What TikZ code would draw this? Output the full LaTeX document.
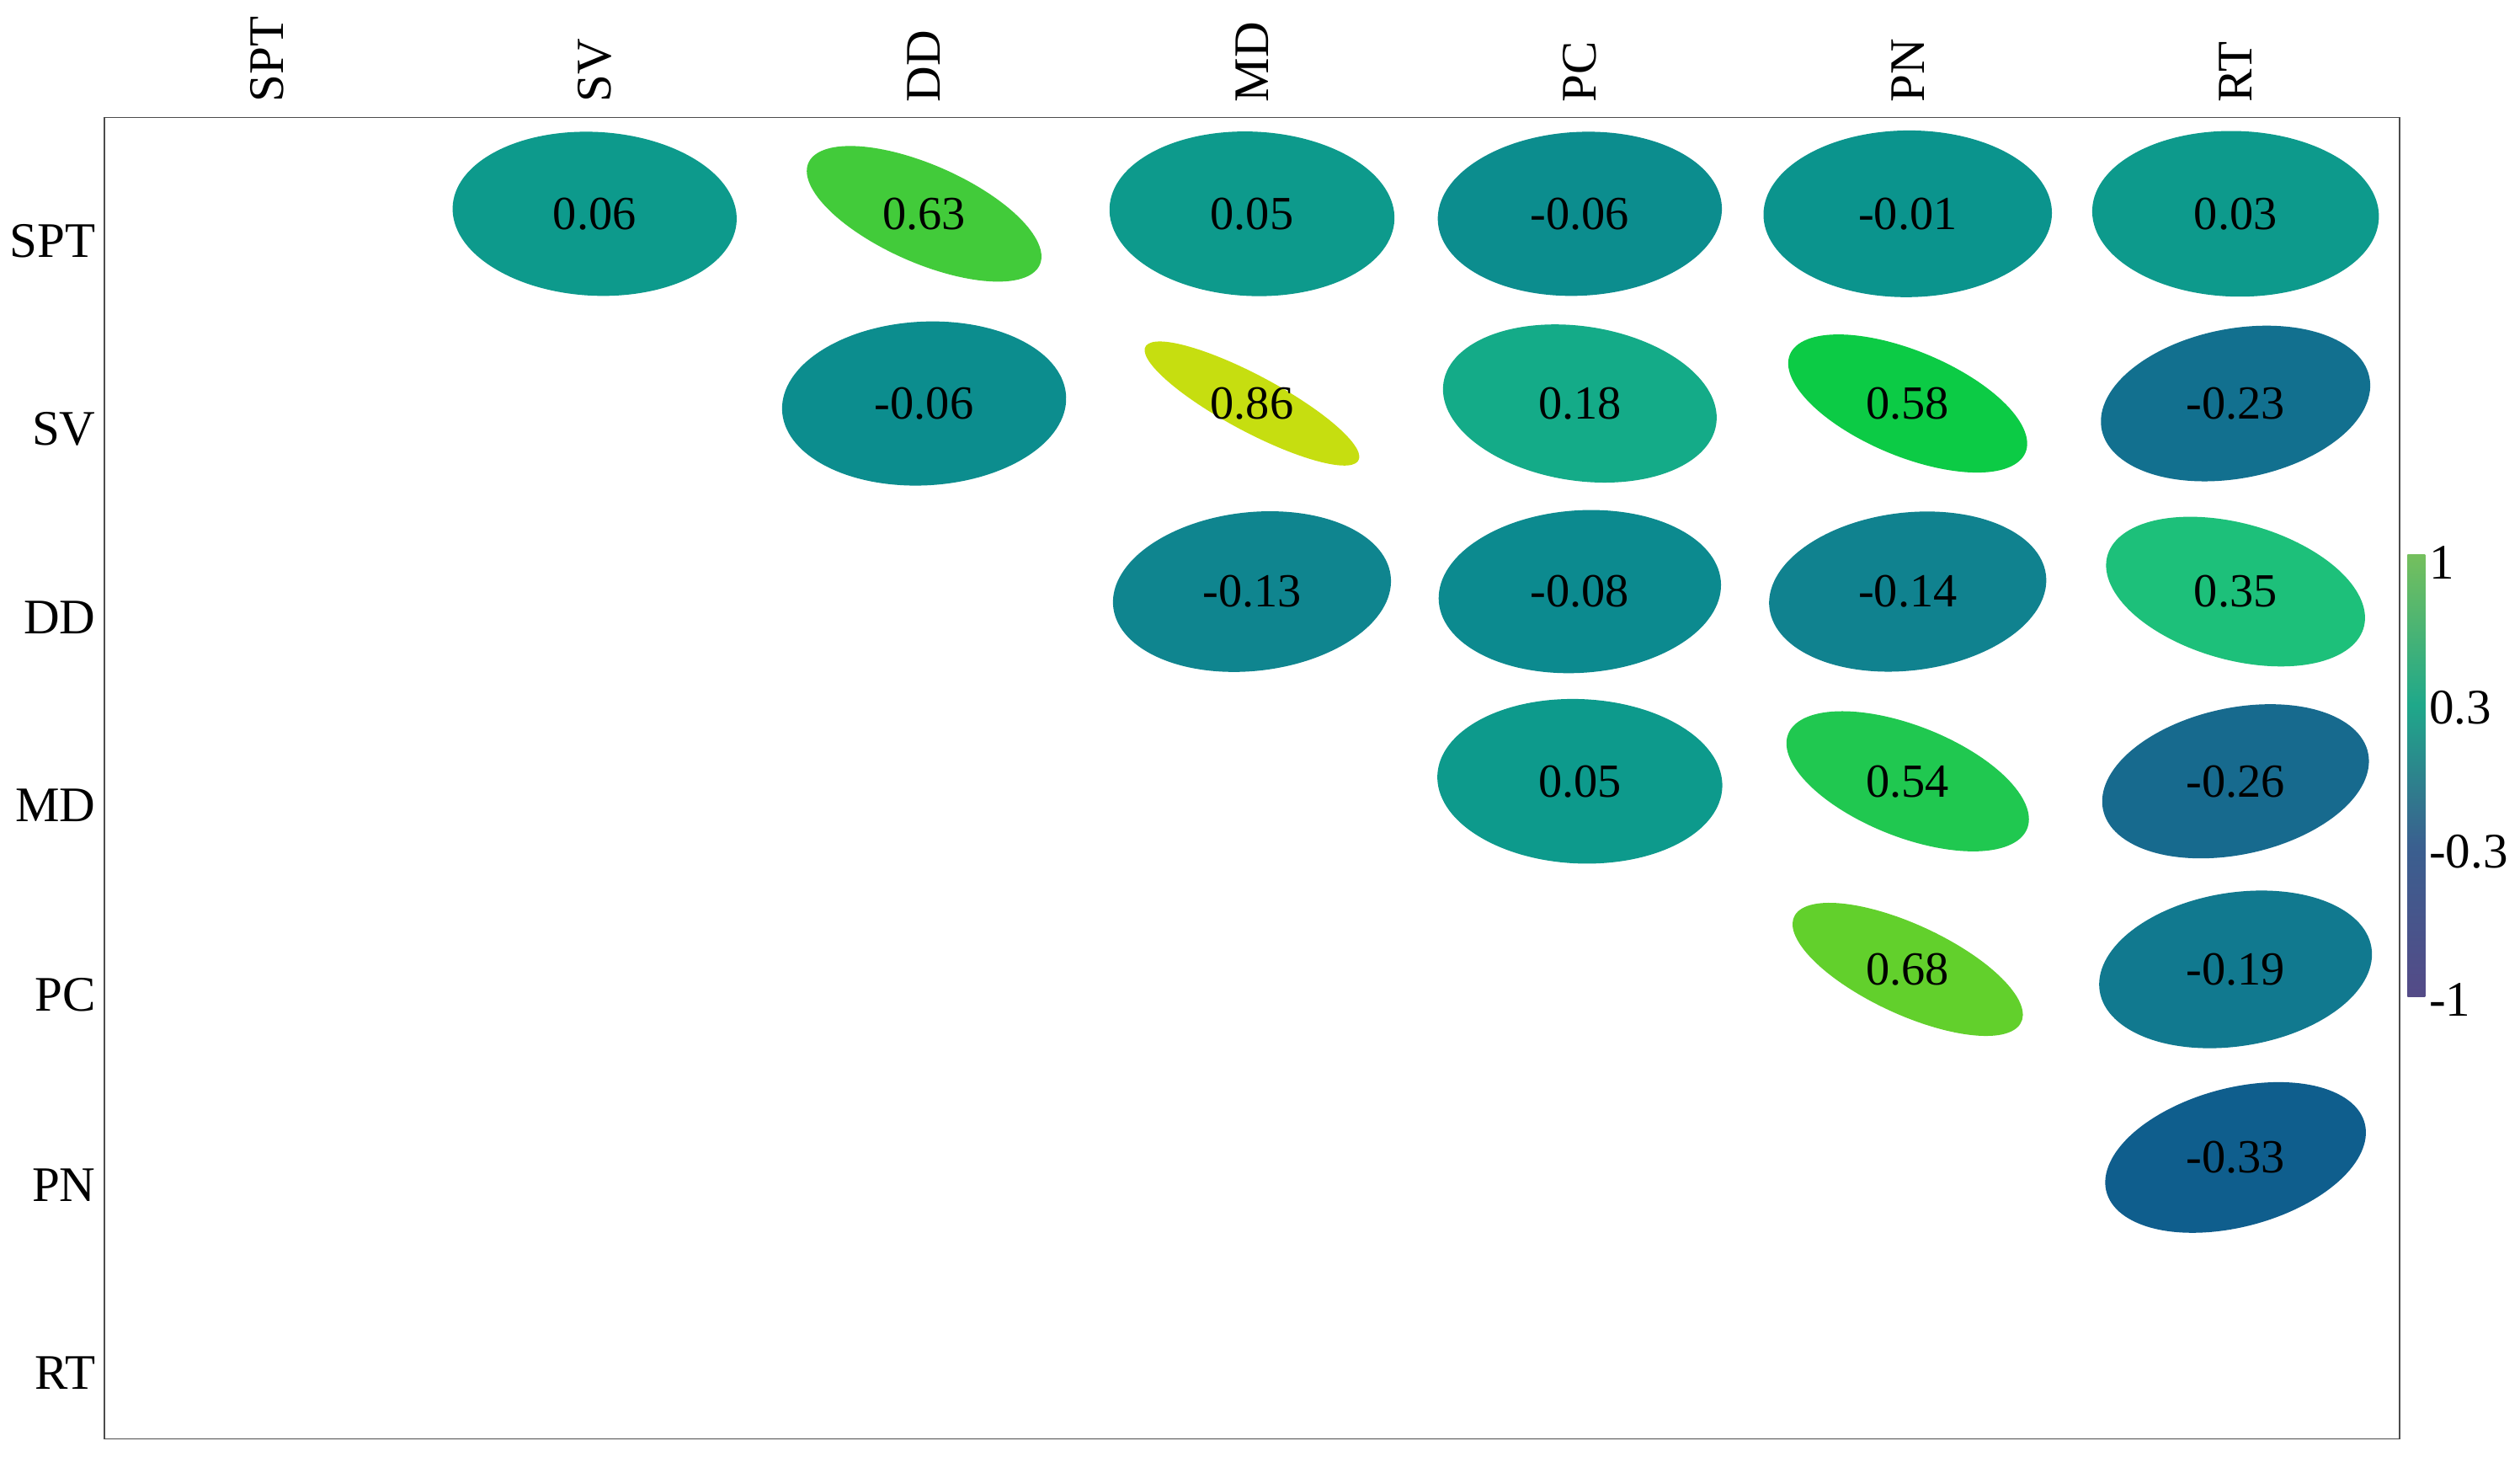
\documentclass[tikz,border=0pt]{standalone}
\usepackage{fontspec}
\setmainfont{Liberation Serif}
\definecolor{cA}{HTML}{F2E21C}
\definecolor{cD}{HTML}{1FA88A}
\definecolor{cC}{HTML}{3A5F8F}
\definecolor{cB}{HTML}{7B2C7C}
\pgfdeclareverticalshading{cbar}{100bp}{color(0bp)=(cB);color(42bp)=(cC);color(58bp)=(cD);color(100bp)=(cA)}
\begin{document}
\begin{tikzpicture}[x=0.05cm,y=-0.05cm,
  lab/.style={font=\fontsize{44}{48}\selectfont},
  num/.style={font=\fontsize{42}{46}\selectfont}]
\useasboundingbox (0,0) rectangle (1568,906);
\draw[line width=1.2pt, black!70] (65,73) rectangle (1493,895);
\newcommand\corr[5]{% name x y r hex
  \definecolor{tmpc}{HTML}{#5}%
  \pgfmathsetmacro\ff{1-0.3*abs(#4)}%
  \pgfmathsetmacro\ra{sqrt(1+#4)}%
  \pgfmathsetmacro\rb{sqrt(1-#4)}%
  \begin{scope}[shift={(#2,#3)},xscale=90*\ff,yscale=52*\ff,rotate=-45]
    \fill[tmpc] (0,0) ellipse [x radius=\ra, y radius=\rb];
  \end{scope}
  \node[num] (#1) at (#2,#3) {#4};
}
\foreach \n/\x in {SPT/166,SV/370,DD/575,MD/779,PC/983,PN/1187,RT/1391}
  \node[lab,rotate=90,anchor=west] (c\n) at (\x,66) {\n};
\foreach \n/\y in {SPT/150,SV/267,DD/384,MD/501,PC/619,PN/737,RT/854}
  \node[lab,anchor=east] (r\n) at (62,\y) {\n};
\corr{a1}{370}{133}{0.06}{0D9A8C}
\corr{a2}{575}{133}{0.63}{42CB3A}
\corr{a3}{779}{133}{0.05}{0D9A8C}
\corr{a4}{983}{133}{-0.06}{0C8D8E}
\corr{a5}{1187}{133}{-0.01}{0B948D}
\corr{a6}{1391}{133}{0.03}{0D9A8C}
\corr{b1}{575}{251}{-0.06}{0C8D8E}
\corr{b2}{779}{251}{0.86}{C6DE10}
\corr{b3}{983}{251}{0.18}{14AB88}
\corr{b4}{1187}{251}{0.58}{0CCB45}
\corr{b5}{1391}{251}{-0.23}{12708F}
\corr{c1}{779}{368}{-0.13}{0F858F}
\corr{c2}{983}{368}{-0.08}{0C8A8F}
\corr{c3}{1187}{368}{-0.14}{10828F}
\corr{c4}{1391}{368}{0.35}{1DC07A}
\corr{d1}{983}{486}{0.05}{0D9A8C}
\corr{d2}{1187}{486}{0.54}{20C850}
\corr{d3}{1391}{486}{-0.26}{176A8E}
\corr{e1}{1187}{603}{0.68}{62D02C}
\corr{e2}{1391}{603}{-0.19}{11798F}
\corr{f1}{1391}{720}{-0.33}{0F5E8D}
\shade[shading=cbar] (1498,345) rectangle (1509,620);
\node[lab,anchor=west] (k1) at (1509,350) {1};
\node[lab,anchor=west] (k2) at (1509,440) {0.3};
\node[lab,anchor=west] (k3) at (1509,530) {-0.3};
\node[lab,anchor=west] (k4) at (1509,622) {-1};
\end{tikzpicture}
\end{document}
